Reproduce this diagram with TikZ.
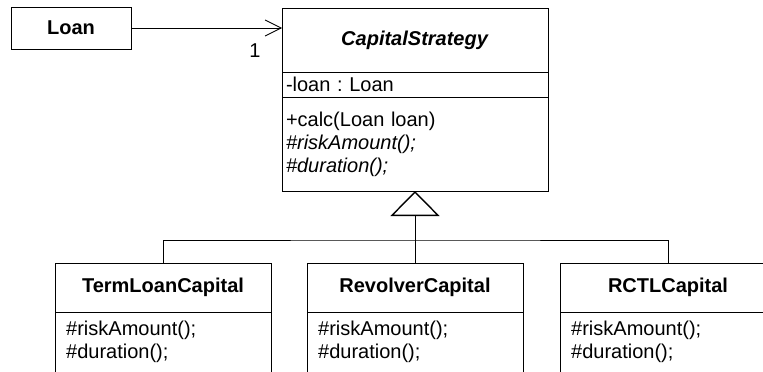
\documentclass[tikz,border=0pt]{standalone}
\usepackage{fontspec}
\setmainfont{Liberation Sans}
\usepackage{tikz}
\usetikzlibrary{arrows.meta,positioning}
\newcommand{\umlfont}{\fontsize{20}{23}\selectfont\frenchspacing}
\tikzstyle{classbox} = [rectangle, draw=black, line width=0.8pt, outer sep=0pt,
inner sep=0pt, font=\umlfont\bfseries]
\tikzstyle{compartment} = [rectangle, draw=black, line width=0.8pt, outer sep=0pt,
inner xsep=4pt, inner ysep=2pt, text width=258pt, align=left, font=\umlfont]
\tikzstyle{opstext} = [anchor=north west, inner xsep=11pt, inner ysep=8.4pt,
align=left, font=\umlfont]
\tikzstyle{arrow} = [line width=0.8pt,-{Straight Barb[length=16pt,width=16pt]}]
\tikzstyle{inherit} = [line width=0.8pt,
-{Triangle[open,length=25pt,width=49pt,line width=1.4pt]}]

\begin{document}
\begin{tikzpicture}[x=1pt, y=-1pt]
\useasboundingbox (0,0) rectangle (763,372);
\clip (0,0) rectangle (763,372);
% strategy and its client
\node[classbox, minimum width=120pt, minimum height=42pt] (loan) at (71,28) {Loan};
\node[classbox, minimum width=266pt, minimum height=64pt] (strategy) at (415,40)
{\textit{CapitalStrategy}};
\node[compartment, minimum height=25pt, below=0pt of strategy] (strategyAttr)
{-loan : Loan};
\node[compartment, minimum height=94pt, below=0pt of strategyAttr] (strategyOps)
{+calc(Loan loan)\\\textit{\#riskAmount();}\\\textit{\#duration();}};
\draw[arrow] (loan) -- (loan -| strategy.west)
node[pos=0.82, below=15pt, inner sep=0pt, font=\umlfont] (mult) {1};
% concrete strategies
\node[classbox, minimum width=216pt, minimum height=49pt] (termLoan) at (163,287.5)
{TermLoanCapital};
\node[classbox, minimum width=216pt, minimum height=49pt] (revolver) at (415,287.5)
{RevolverCapital};
\node[classbox, minimum width=216pt, minimum height=49pt] (rctl) at (668,287.5)
{RCTLCapital};
\foreach \cls in {termLoan, revolver, rctl} {
  \node[opstext] (\cls Ops) at (\cls.south west) {\#riskAmount();\\\#duration();};
  \draw[line width=0.8pt] (\cls.south west) -- ++(0,80)
  (\cls.south east) -- ++(0,80);
}
% generalization
\coordinate (hub) at ([yshift=23pt]revolver.north);
\draw[inherit] (hub) -- (strategyOps.south);
\draw[line width=0.8pt] (termLoan.north) |- (hub) -| (rctl.north);
\draw[line width=0.8pt] (revolver.north) -- (hub);
\end{tikzpicture}
\end{document}
